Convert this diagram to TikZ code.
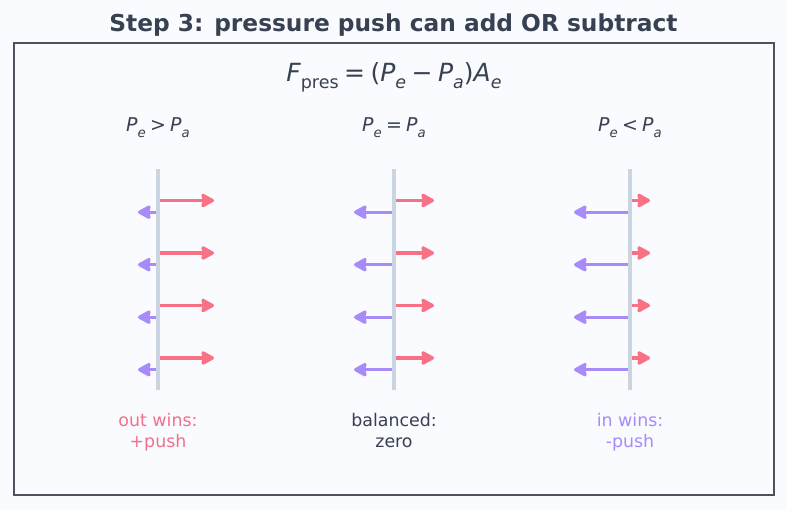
\documentclass[tikz,border=0pt]{standalone}
\usepackage{fontspec}
\setmainfont{DejaVu Sans}
\usetikzlibrary{arrows.meta}
\definecolor{bg}{HTML}{FAFBFE}
\definecolor{framec}{HTML}{4B5260}
\definecolor{ink}{HTML}{374151}
\definecolor{outc}{HTML}{F87185}
\definecolor{outt}{HTML}{F0718C}
\definecolor{inc}{HTML}{A78BFA}
\definecolor{wallc}{HTML}{CBD5E1}
\newcommand\vi[1]{{\itshape #1}}
\newcommand\lo[1]{\raisebox{-0.28em}{\fontsize{0.7em}{1em}\selectfont #1}}
\newcommand\opsp{\hspace{0.22em}}
\tikzset{
  wall/.style={draw=wallc, line width=3.4pt},
  outarrow/.style={draw=outc, line width=3.2pt, arrows={-Triangle[length=15pt 0 0,width=16pt 0 0,inset=2pt,round]}},
  inarrow/.style={draw=inc, line width=3.2pt, arrows={-Triangle[length=15pt 0 0,width=16pt 0 0,inset=2pt,round]}},
  collabel/.style={text=ink, font=\fontsize{19}{22}\selectfont, inner sep=0pt, anchor=base},
  verdict/.style={font=\fontsize{17.4}{20.3}\selectfont, align=center, inner sep=0pt, anchor=base},
}
\begin{document}
\begin{tikzpicture}[x=1pt,y=-1pt]
\useasboundingbox (0,0) rectangle (787,510);
\fill[bg] (0,0) rectangle (787,510);
\node[font=\bfseries\fontsize{23.3}{26}\selectfont, text=ink, inner sep=0pt, anchor=base] (title) at (393.5,32) {Step 3: pressure push can add OR subtract};
\node[draw=framec, line width=1.3pt, minimum width=760pt, minimum height=452pt, inner sep=0pt] (frame) at (394,269) {};
\node[collabel, font=\fontsize{25}{27}\selectfont] (formula) at (394,82) {\vi{F}\lo{pres}\opsp=\opsp(\vi{P}\lo{\vi{e}}\opsp−\opsp\vi{P}\lo{\vi{a}})\vi{A}\lo{\vi{e}}};
\node[collabel] (c1) at (158,132) {\vi{P}\lo{\vi{e}}\opsp>\opsp\vi{P}\lo{\vi{a}}};
\node[collabel] (c2) at (394,132) {\vi{P}\lo{\vi{e}}\opsp=\opsp\vi{P}\lo{\vi{a}}};
\node[collabel] (c3) at (630,132) {\vi{P}\lo{\vi{e}}\opsp<\opsp\vi{P}\lo{\vi{a}}};
% walls
\foreach \n/\x in {1/158,2/394,3/630}{
  \coordinate (w\n t) at (\x,169);
  \coordinate (w\n b) at (\x,390);
  \draw[wall] (w\n t) -- (w\n b);
}
% arrows: column / red start / red end / purple start / purple end
\foreach \n/\rs/\re/\ps/\pe in {1/160/214/156/138, 2/396/434/392/354, 3/632/650/628/574}{
  \foreach \k/\y in {1/200.5, 2/253, 3/305.5, 4/358}{
    \coordinate (r\n\k s) at (\rs,\y);
    \coordinate (r\n\k e) at (\re,\y);
    \coordinate (p\n\k s) at (\ps,\y+11.7);
    \coordinate (p\n\k e) at (\pe,\y+11.7);
    \draw[outarrow] (r\n\k s) -- (r\n\k e);
    \draw[inarrow] (p\n\k s) -- (p\n\k e);
  }
}
\node[verdict, text=outt] (v1) at (158,447) {out wins:\\+push};
\node[verdict, text=ink] (v2) at (394,447) {balanced:\\zero};
\node[verdict, text=inc] (v3) at (630,447) {in wins:\\-push};
\end{tikzpicture}
\end{document}
